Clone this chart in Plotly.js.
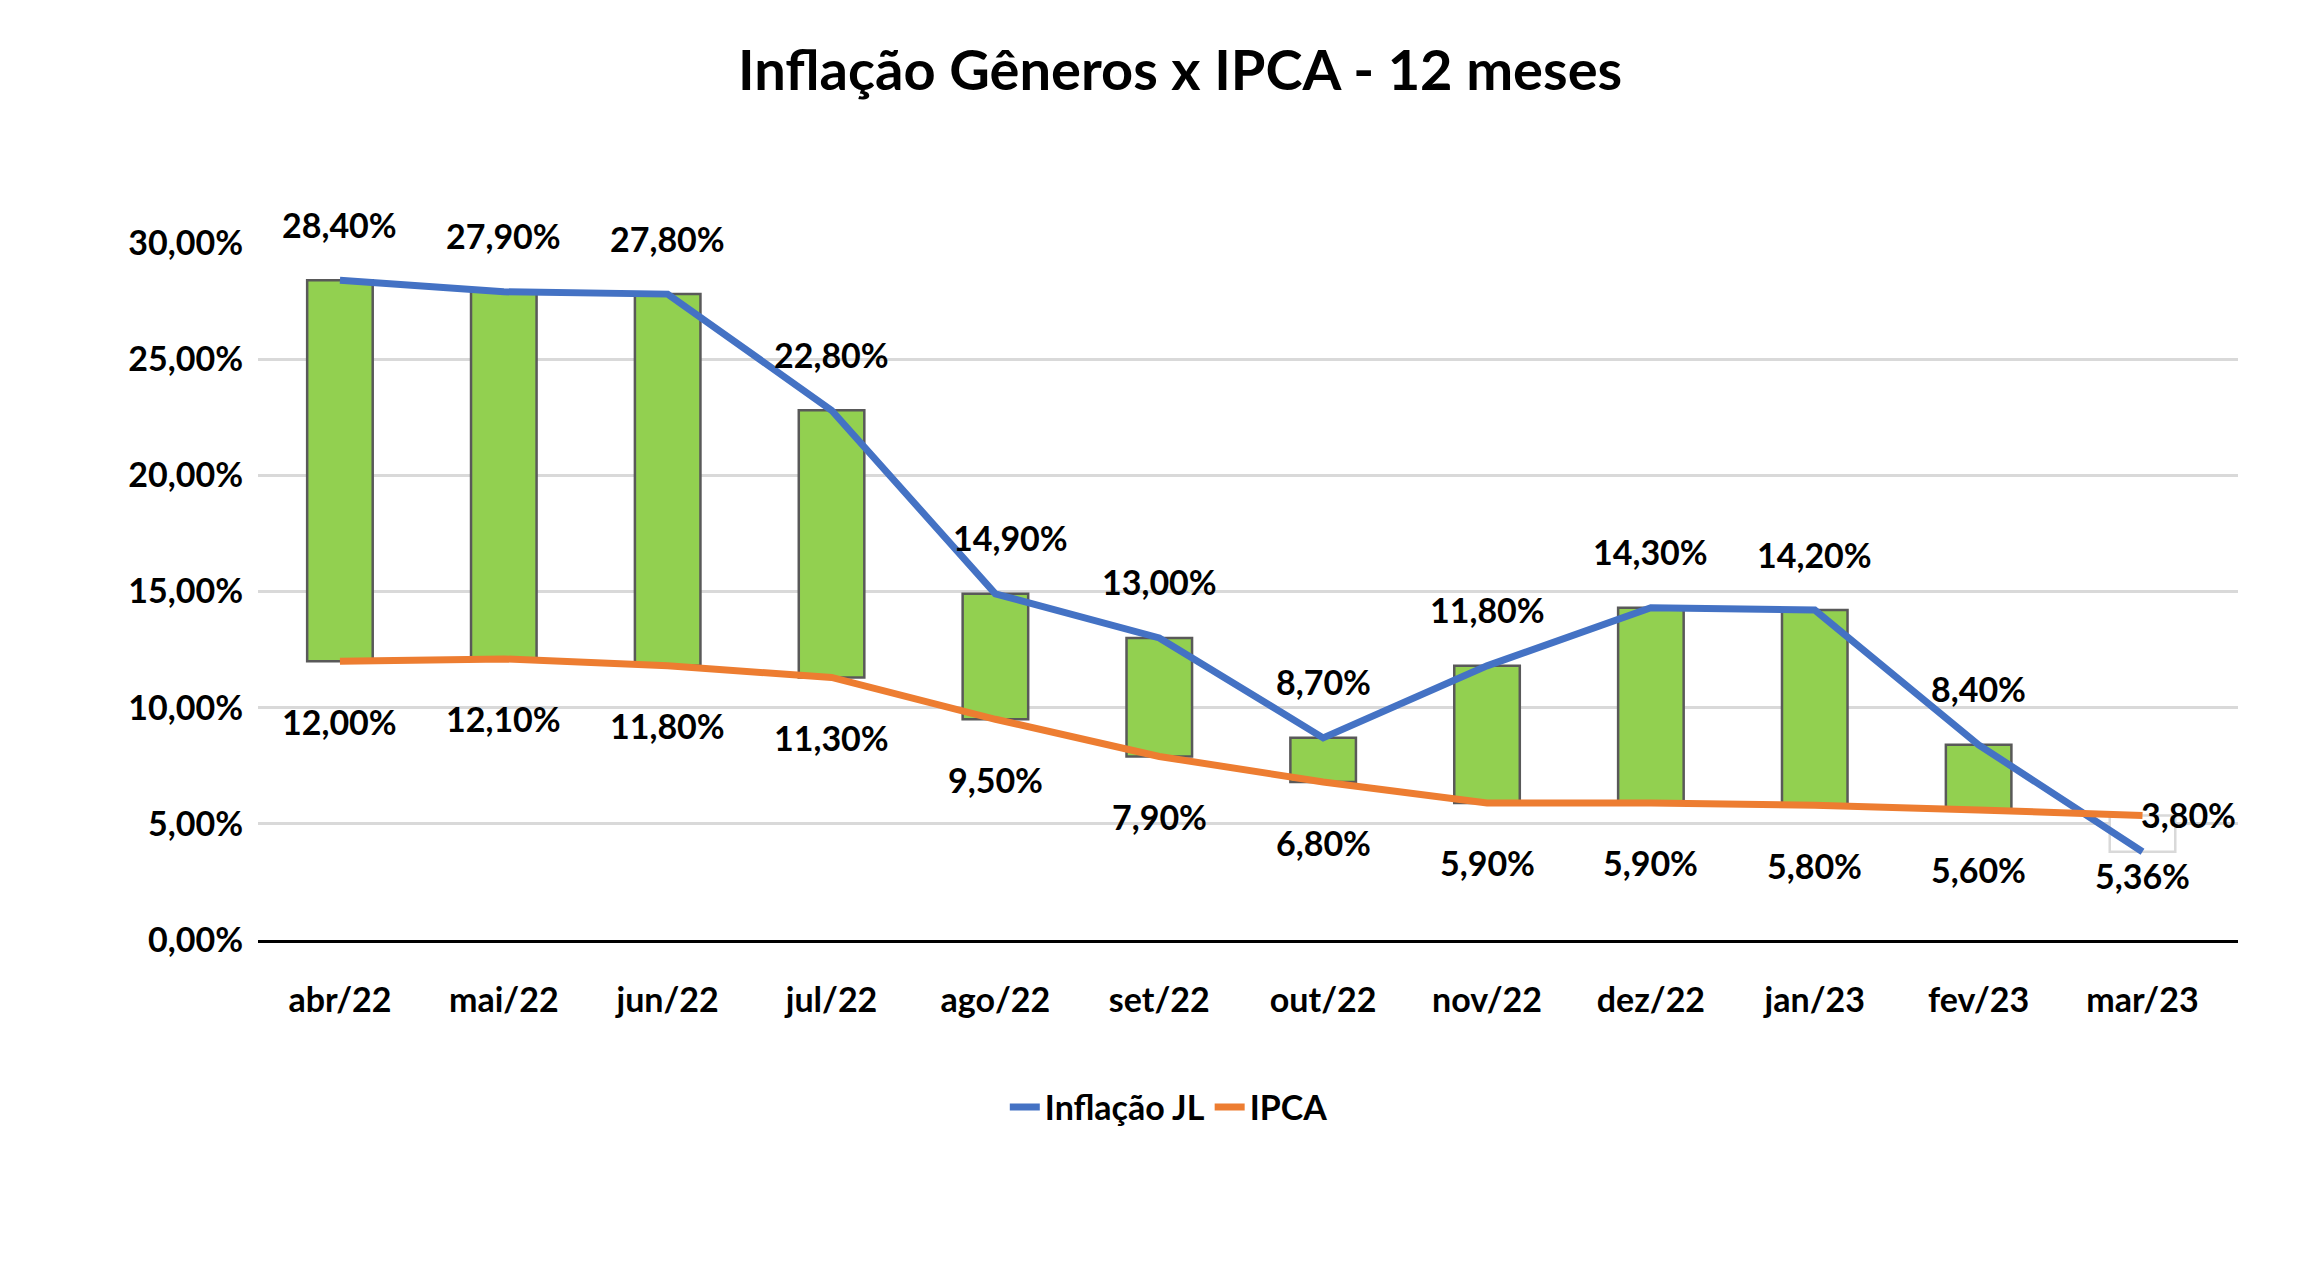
<!DOCTYPE html>
<html><head><meta charset="utf-8">
<script src="https://cdn.plot.ly/plotly-3.0.1.min.js"></script>
<style>body{margin:0;background:#fff}#c{width:2323px;height:1282px}</style>
</head><body><div id="c"></div>
<script>
const months = ['abr/22','mai/22','jun/22','jul/22','ago/22','set/22','out/22','nov/22','dez/22','jan/23','fev/23','mar/23'];
const inflacaoJL = [28.40,27.90,27.80,22.80,14.90,13.00,8.70,11.80,14.30,14.20,8.40,3.80];
const ipca = [12.00,12.10,11.80,11.30,9.50,7.90,6.80,5.90,5.90,5.80,5.60,5.36];
const yTicks = [0,5,10,15,20,25,30];

const fmt = v => v.toFixed(2).replace('.', ',') + '%';
const up = months.map((m,i)=>inflacaoJL[i]>=ipca[i]);
const lo = months.map((m,i)=>Math.min(inflacaoJL[i],ipca[i]));
const hi = months.map((m,i)=>Math.max(inflacaoJL[i],ipca[i]));
const F = 'Lato, "Open Sans", sans-serif';

const traces = [
 {type:'scatter', mode:'lines', x:months, y:inflacaoJL, name:'Inflação JL', line:{color:'#4472c4', width:7}},
 {type:'scatter', mode:'lines', x:months, y:ipca, name:'IPCA', line:{color:'#ed7d31', width:7}},
 {type:'bar', x:months, base:lo, y:hi.map((h,i)=>h-lo[i]), width:0.4,
  marker:{color:up.map(u=>u?'#92d050':'#ffffff'), line:{color:up.map(u=>u?'#595959':'#d9d9d9'), width:2.5}},
  showlegend:false, hoverinfo:'skip'}
];

const ann = [];
months.forEach((m,i)=>{
  const last = i===months.length-1;
  ann.push({x:m, y:inflacaoJL[i], text:fmt(inflacaoJL[i]), showarrow:false,
    yshift: last?37:56, xshift: last?46:(i===4?15:0), font:{family:F,size:34,color:'#000',weight:'bold'}});
  ann.push({x:m, y:ipca[i], text:fmt(ipca[i]), showarrow:false, yshift:-60,
    font:{family:F,size:34,color:'#000',weight:'bold'}});
});

Plotly.newPlot('c', traces, {
  width:2323, height:1282,
  margin:{l:258, r:85, t:243, b:342},
  paper_bgcolor:'#fff', plot_bgcolor:'#fff',
  title:{text:'<b>Inflação Gêneros x IPCA - 12 meses</b>', x:0.508, xanchor:'center', y:0.945, yanchor:'middle',
    font:{family:F, size:56, color:'#000'}},
  font:{family:F, color:'#000'},
  xaxis:{type:'category', showgrid:false, showline:true, linecolor:'#000', linewidth:2.5,
    ticks:'', tickfont:{family:F,size:34,color:'#000',weight:'bold'}, ticklabelstandoff:28},
  yaxis:{range:[0,30], tickvals:yTicks, ticktext:yTicks.map(fmt), showgrid:true, gridcolor:'#d9d9d9', gridwidth:2.5,
    zeroline:false, showline:false, ticks:'', tickfont:{family:F,size:34,color:'#000',weight:'bold'}, ticklabelstandoff:14},
  legend:{orientation:'h', x:0.46, xanchor:'center', y:-0.24, yanchor:'middle',
    font:{family:F,size:34,color:'#000',weight:'bold'}},
  annotations: ann,
  showlegend:true
}, {displayModeBar:false});
</script></body></html>
